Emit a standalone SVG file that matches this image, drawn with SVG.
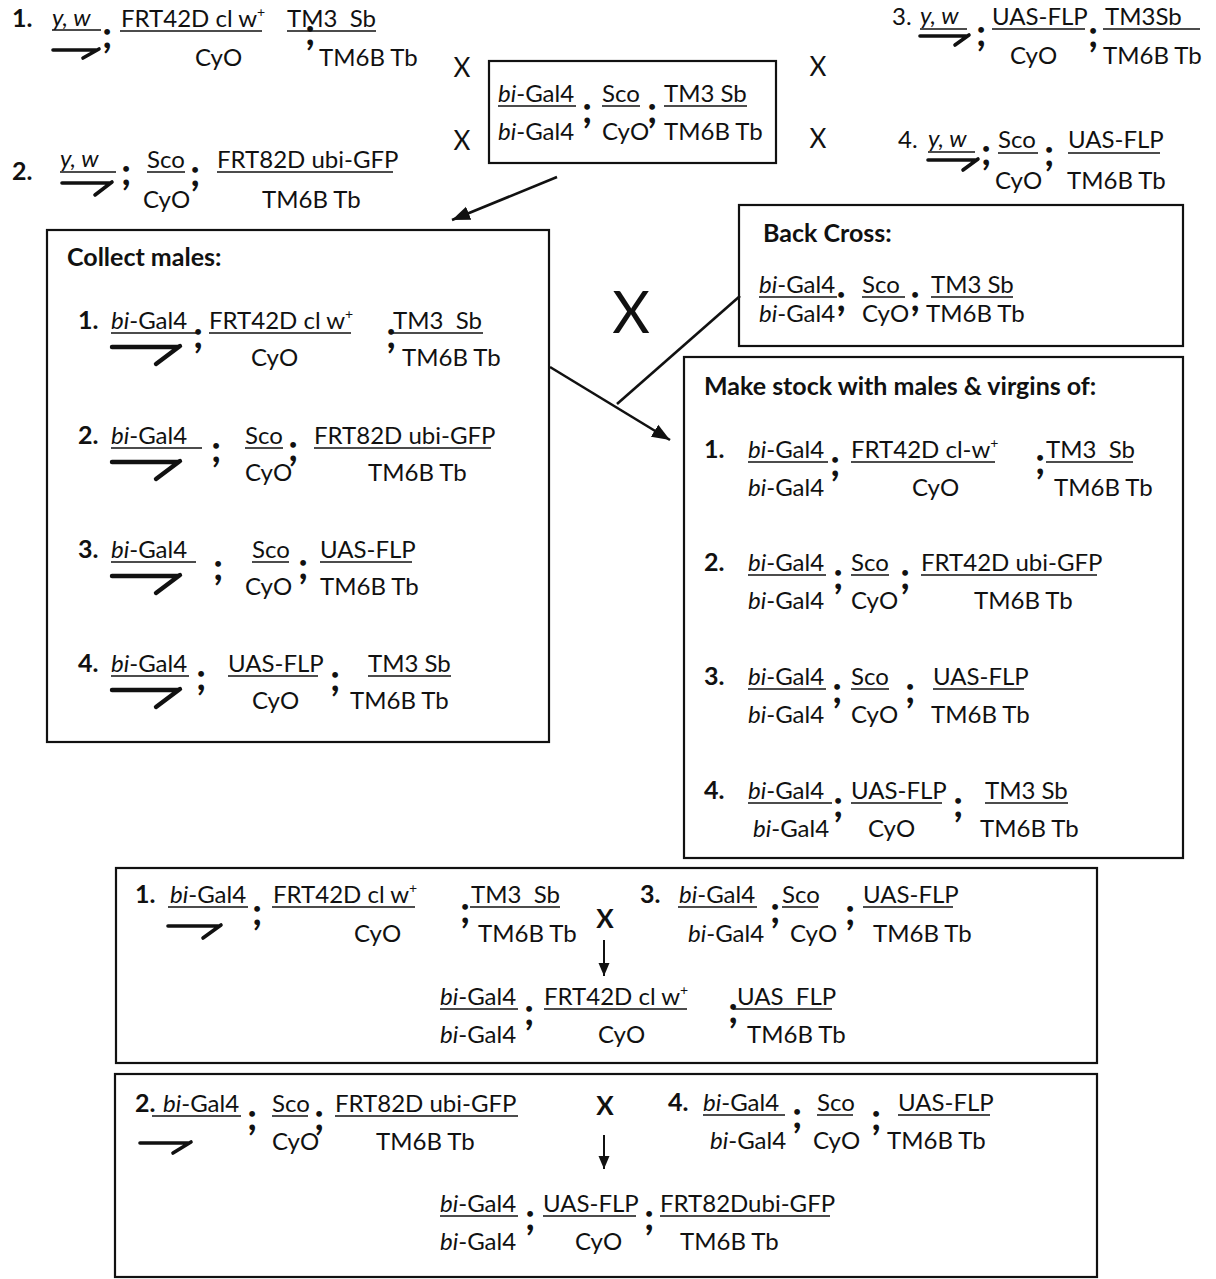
<svg xmlns="http://www.w3.org/2000/svg" width="1216" height="1279" viewBox="0 0 1216 1279">
<defs>
<style>
text{font-family:Lato,Carlito,"Liberation Sans",sans-serif;font-size:24px;fill:#111}
.b{font-weight:700;font-size:25px}
.i{font-style:italic}
.sc{font-weight:700;font-size:38px}
.sup{font-size:14px}
.x{font-size:26px}
.bx{font-weight:700;font-size:26px}
.big{font-size:58px}
.u{stroke:#111;stroke-width:1.7}
.box{fill:none;stroke:#111;stroke-width:2.2}
.m{fill:none;stroke:#111;stroke-width:3.6;stroke-linecap:round;stroke-linejoin:round}
.mb{fill:none;stroke:#111;stroke-width:4.4;stroke-linecap:round;stroke-linejoin:round}
.c{fill:none;stroke:#111;stroke-width:2.6}
.ca{fill:none;stroke:#111;stroke-width:2}
</style>
<marker id="ah" markerUnits="userSpaceOnUse" markerWidth="20" markerHeight="16" refX="18" refY="8" orient="auto"><path d="M0,1 L18,8 L0,15 Z" fill="#111"/></marker>
<marker id="ahs" markerUnits="userSpaceOnUse" markerWidth="14" markerHeight="12" refX="13" refY="6" orient="auto"><path d="M0,0.5 L13,6 L0,11.5 Z" fill="#111"/></marker>
</defs>
<rect width="1216" height="1279" fill="#fff"/>

<g id="connectors">
<line class="c" x1="557" y1="177" x2="452" y2="220" marker-end="url(#ah)"/>
<line class="c" x1="550" y1="367" x2="670" y2="440" marker-end="url(#ah)"/>
<line class="c" x1="617" y1="404" x2="740" y2="296"/>
<line class="ca" x1="604" y1="940" x2="604" y2="976" marker-end="url(#ahs)"/>
<line class="ca" x1="604" y1="1135" x2="604" y2="1169" marker-end="url(#ahs)"/>
</g>

<g id="cross-marks">
<text class="x" x="462" y="77" text-anchor="middle">X</text>
<text class="x" x="462" y="150" text-anchor="middle">X</text>
<text class="x" x="818" y="76" text-anchor="middle">X</text>
<text class="x" x="818" y="148" text-anchor="middle">X</text>
<text class="big" x="631" y="333" text-anchor="middle">X</text>
<text class="bx" x="605" y="928" text-anchor="middle">X</text>
<text class="bx" x="605" y="1115" text-anchor="middle">X</text>
</g>

<g id="parent1">
<text class="b" x="12" y="27">1.</text>
<text class="i" x="52" y="26">y, w</text>
<line class="u" x1="52" y1="30" x2="101" y2="30"/>
<path class="m" d="M53,50 H97 M99,49 L83,58"/>
<text class="sc" x="102" y="48">;</text>
<text x="121" y="27">FRT42D cl w<tspan class="sup" dy="-10">+</tspan></text>
<line class="u" x1="120" y1="31" x2="262" y2="31"/>
<text x="195" y="66">CyO</text>
<text class="sc" x="305" y="45">;</text>
<text x="287" y="27">TM3&#160; Sb</text>
<line class="u" x1="287" y1="31" x2="376" y2="31"/>
<text x="319" y="66">TM6B Tb</text>
</g>

<g id="parent2">
<text class="b" x="12" y="180">2.</text>
<text class="i" x="60" y="167">y, w</text>
<line class="u" x1="60" y1="172" x2="116" y2="172"/>
<path class="m" d="M62,183 H110 M112,182 L95,195"/>
<text class="sc" x="121" y="185">;</text>
<text x="147" y="168">Sco</text>
<line class="u" x1="147" y1="172" x2="185" y2="172"/>
<text x="143" y="208">CyO</text>
<text class="sc" x="190" y="186">;</text>
<text x="217" y="168">FRT82D ubi-GFP</text>
<line class="u" x1="217" y1="172" x2="393" y2="172"/>
<text x="262" y="208">TM6B Tb</text>
</g>

<g id="parent3">
<text x="892" y="25">3.</text>
<text class="i" x="920" y="24">y, w</text>
<line class="u" x1="920" y1="29" x2="967" y2="29"/>
<path class="m" d="M920,36 H967 M969,35 L955,45"/>
<text class="sc" x="976" y="46">;</text>
<text x="992" y="25">UAS-FLP</text>
<line class="u" x1="992" y1="29" x2="1085" y2="29"/>
<text x="1010" y="64">CyO</text>
<text class="sc" x="1088" y="47">;</text>
<text x="1105" y="25">TM3Sb</text>
<line class="u" x1="1103" y1="29" x2="1200" y2="29"/>
<text x="1103" y="64">TM6B Tb</text>
</g>

<g id="parent4">
<text x="898" y="148">4.</text>
<text class="i" x="928" y="147">y, w</text>
<line class="u" x1="928" y1="152" x2="975" y2="152"/>
<path class="m" d="M928,160 H976 M978,159 L963,170"/>
<text class="sc" x="981" y="165">;</text>
<text x="998" y="148">Sco</text>
<line class="u" x1="998" y1="153" x2="1038" y2="153"/>
<text x="995" y="189">CyO</text>
<text class="sc" x="1044" y="166">;</text>
<text x="1068" y="148">UAS-FLP</text>
<line class="u" x1="1068" y1="153" x2="1160" y2="153"/>
<text x="1067" y="189">TM6B Tb</text>
</g>

<g id="center-stock">
<rect class="box" x="489" y="61" width="287" height="102"/>
<text x="498" y="102"><tspan class="i">bi</tspan>-Gal4</text>
<line class="u" x1="498" y1="106" x2="576" y2="106"/>
<text class="sc" x="582" y="123">;</text>
<text x="602" y="102">Sco</text>
<line class="u" x1="602" y1="106" x2="640" y2="106"/>
<text class="sc" x="647" y="123">;</text>
<text x="664" y="102">TM3 Sb</text>
<line class="u" x1="664" y1="106" x2="747" y2="106"/>
<text x="498" y="140"><tspan class="i">bi</tspan>-Gal4</text>
<text x="602" y="140">CyO</text>
<text x="664" y="140">TM6B Tb</text>
</g>

<g id="collect-males">
<rect class="box" x="47" y="230" width="502" height="512"/>
<text class="b" x="67" y="266">Collect males:</text>
<text class="b" x="78" y="329">1.</text>
<text x="111" y="329"><tspan class="i">bi</tspan>-Gal4</text>
<line class="u" x1="111" y1="333" x2="197" y2="333"/>
<path class="mb" d="M112,347 H178 M180,346 L156,364"/>
<text class="sc" x="193" y="348">;</text>
<text x="209" y="329">FRT42D cl w<tspan class="sup" dy="-10">+</tspan></text>
<line class="u" x1="209" y1="333" x2="351" y2="333"/>
<text x="251" y="366">CyO</text>
<text class="sc" x="386" y="348">;</text>
<text x="393" y="329">TM3&#160; Sb</text>
<line class="u" x1="393" y1="333" x2="483" y2="333"/>
<text x="402" y="366">TM6B Tb</text>

<text class="b" x="78" y="444">2.</text>
<text x="111" y="444"><tspan class="i">bi</tspan>-Gal4</text>
<line class="u" x1="111" y1="448" x2="202" y2="448"/>
<path class="mb" d="M112,462 H178 M180,461 L156,479"/>
<text class="sc" x="211" y="462">;</text>
<text x="245" y="444">Sco</text>
<line class="u" x1="245" y1="448" x2="283" y2="448"/>
<text x="245" y="481">CyO</text>
<text class="sc" x="288" y="461">;</text>
<text x="314" y="444">FRT82D ubi-GFP</text>
<line class="u" x1="314" y1="448" x2="491" y2="448"/>
<text x="368" y="481">TM6B Tb</text>

<text class="b" x="78" y="558">3.</text>
<text x="111" y="558"><tspan class="i">bi</tspan>-Gal4</text>
<line class="u" x1="111" y1="562" x2="196" y2="562"/>
<path class="mb" d="M112,576 H178 M180,575 L156,593"/>
<text class="sc" x="213" y="580">;</text>
<text x="252" y="558">Sco</text>
<line class="u" x1="252" y1="562" x2="289" y2="562"/>
<text x="245" y="595">CyO</text>
<text class="sc" x="298" y="579">;</text>
<text x="320" y="558">UAS-FLP</text>
<line class="u" x1="320" y1="562" x2="412" y2="562"/>
<text x="320" y="595">TM6B Tb</text>

<text class="b" x="78" y="672">4.</text>
<text x="111" y="672"><tspan class="i">bi</tspan>-Gal4</text>
<line class="u" x1="111" y1="676" x2="189" y2="676"/>
<path class="mb" d="M112,690 H178 M180,689 L156,707"/>
<text class="sc" x="196" y="690">;</text>
<text x="228" y="672">UAS-FLP</text>
<line class="u" x1="228" y1="676" x2="318" y2="676"/>
<text x="252" y="709">CyO</text>
<text class="sc" x="330" y="691">;</text>
<text x="368" y="672">TM3 Sb</text>
<line class="u" x1="368" y1="676" x2="451" y2="676"/>
<text x="350" y="709">TM6B Tb</text>
</g>

<g id="back-cross">
<rect class="box" x="739" y="205" width="444" height="141"/>
<text class="b" x="763" y="242">Back Cross:</text>
<text x="759" y="293"><tspan class="i">bi</tspan>-Gal4</text>
<line class="u" x1="759" y1="297" x2="837" y2="297"/>
<text class="sc" x="836" y="311">;</text>
<text x="862" y="293">Sco</text>
<line class="u" x1="862" y1="297" x2="905" y2="297"/>
<text class="sc" x="910" y="311">;</text>
<text x="931" y="293">TM3 Sb</text>
<line class="u" x1="931" y1="297" x2="1013" y2="297"/>
<text x="759" y="322"><tspan class="i">bi</tspan>-Gal4</text>
<text x="862" y="322">CyO</text>
<text x="926" y="322">TM6B Tb</text>
</g>

<g id="make-stock">
<rect class="box" x="684" y="357" width="499" height="501"/>
<text class="b" x="704" y="395">Make stock with males &amp; virgins of:</text>

<text class="b" x="704" y="458">1.</text>
<text x="748" y="458"><tspan class="i">bi</tspan>-Gal4</text>
<line class="u" x1="748" y1="462" x2="828" y2="462"/>
<text class="sc" x="830" y="476">;</text>
<text x="851" y="458">FRT42D cl-w<tspan class="sup" dy="-10">+</tspan></text>
<line class="u" x1="851" y1="462" x2="995" y2="462"/>
<text class="sc" x="1035" y="474">;</text>
<text x="1046" y="458">TM3&#160; Sb</text>
<line class="u" x1="1046" y1="462" x2="1133" y2="462"/>
<text x="748" y="496"><tspan class="i">bi</tspan>-Gal4</text>
<text x="912" y="496">CyO</text>
<text x="1054" y="496">TM6B Tb</text>

<text class="b" x="704" y="571">2.</text>
<text x="748" y="571"><tspan class="i">bi</tspan>-Gal4</text>
<line class="u" x1="748" y1="575" x2="826" y2="575"/>
<text class="sc" x="833" y="589">;</text>
<text x="851" y="571">Sco</text>
<line class="u" x1="851" y1="575" x2="889" y2="575"/>
<text class="sc" x="900" y="589">;</text>
<text x="921" y="571">FRT42D ubi-GFP</text>
<line class="u" x1="921" y1="575" x2="1097" y2="575"/>
<text x="748" y="609"><tspan class="i">bi</tspan>-Gal4</text>
<text x="851" y="609">CyO</text>
<text x="974" y="609">TM6B Tb</text>

<text class="b" x="704" y="685">3.</text>
<text x="748" y="685"><tspan class="i">bi</tspan>-Gal4</text>
<line class="u" x1="748" y1="689" x2="826" y2="689"/>
<text class="sc" x="832" y="703">;</text>
<text x="851" y="685">Sco</text>
<line class="u" x1="851" y1="689" x2="889" y2="689"/>
<text class="sc" x="905" y="703">;</text>
<text x="933" y="685">UAS-FLP</text>
<line class="u" x1="933" y1="689" x2="1024" y2="689"/>
<text x="748" y="723"><tspan class="i">bi</tspan>-Gal4</text>
<text x="851" y="723">CyO</text>
<text x="931" y="723">TM6B Tb</text>

<text class="b" x="704" y="799">4.</text>
<text x="748" y="799"><tspan class="i">bi</tspan>-Gal4</text>
<line class="u" x1="748" y1="803" x2="832" y2="803"/>
<text class="sc" x="833" y="817">;</text>
<text x="851" y="799">UAS-FLP</text>
<line class="u" x1="851" y1="803" x2="942" y2="803"/>
<text class="sc" x="953" y="817">;</text>
<text x="985" y="799">TM3 Sb</text>
<line class="u" x1="985" y1="803" x2="1068" y2="803"/>
<text x="753" y="837"><tspan class="i">bi</tspan>-Gal4</text>
<text x="868" y="837">CyO</text>
<text x="980" y="837">TM6B Tb</text>
</g>

<g id="cross-1x3">
<rect class="box" x="116" y="868" width="981" height="195"/>
<text class="b" x="135" y="903">1.</text>
<text x="170" y="903"><tspan class="i">bi</tspan>-Gal4</text>
<line class="u" x1="168" y1="907" x2="248" y2="907"/>
<path class="m" d="M168,926 H219 M221,925 L203,938"/>
<text class="sc" x="252" y="925">;</text>
<text x="273" y="903">FRT42D cl w<tspan class="sup" dy="-10">+</tspan></text>
<line class="u" x1="272" y1="907" x2="415" y2="907"/>
<text x="354" y="942">CyO</text>
<text class="sc" x="460" y="923">;</text>
<text x="471" y="903">TM3&#160; Sb</text>
<line class="u" x1="470" y1="907" x2="560" y2="907"/>
<text x="478" y="942">TM6B Tb</text>

<text class="b" x="640" y="903">3.</text>
<text x="679" y="903"><tspan class="i">bi</tspan>-Gal4</text>
<line class="u" x1="678" y1="907" x2="757" y2="907"/>
<text class="sc" x="770" y="923">;</text>
<text x="782" y="903">Sco</text>
<line class="u" x1="782" y1="907" x2="818" y2="907"/>
<text class="sc" x="845" y="925">;</text>
<text x="863" y="903">UAS-FLP</text>
<line class="u" x1="863" y1="907" x2="953" y2="907"/>
<text x="688" y="942"><tspan class="i">bi</tspan>-Gal4</text>
<text x="790" y="942">CyO</text>
<text x="873" y="942">TM6B Tb</text>

<text x="440" y="1005"><tspan class="i">bi</tspan>-Gal4</text>
<line class="u" x1="440" y1="1009" x2="518" y2="1009"/>
<text class="sc" x="524" y="1025">;</text>
<text x="544" y="1005">FRT42D cl w<tspan class="sup" dy="-10">+</tspan></text>
<line class="u" x1="544" y1="1009" x2="687" y2="1009"/>
<text class="sc" x="728" y="1023">;</text>
<text x="737" y="1005">UAS&#160; FLP</text>
<line class="u" x1="733" y1="1009" x2="832" y2="1009"/>
<text x="440" y="1043"><tspan class="i">bi</tspan>-Gal4</text>
<text x="598" y="1043">CyO</text>
<text x="747" y="1043">TM6B Tb</text>
</g>

<g id="cross-2x4">
<rect class="box" x="115" y="1074" width="982" height="203"/>
<text class="b" x="135" y="1112">2.</text>
<text x="163" y="1112"><tspan class="i">bi</tspan>-Gal4</text>
<line class="u" x1="152" y1="1116" x2="241" y2="1116"/>
<path class="m" d="M140,1143 H189 M191,1142 L173,1153"/>
<text class="sc" x="247" y="1130">;</text>
<text x="272" y="1112">Sco</text>
<line class="u" x1="272" y1="1116" x2="308" y2="1116"/>
<text class="sc" x="314" y="1130">;</text>
<text x="335" y="1112">FRT82D ubi-GFP</text>
<line class="u" x1="335" y1="1116" x2="518" y2="1116"/>
<text x="272" y="1150">CyO</text>
<text x="376" y="1150">TM6B Tb</text>

<text class="b" x="668" y="1111">4.</text>
<text x="703" y="1111"><tspan class="i">bi</tspan>-Gal4</text>
<line class="u" x1="703" y1="1115" x2="785" y2="1115"/>
<text class="sc" x="792" y="1128">;</text>
<text x="817" y="1111">Sco</text>
<line class="u" x1="817" y1="1115" x2="853" y2="1115"/>
<text class="sc" x="871" y="1130">;</text>
<text x="898" y="1111">UAS-FLP</text>
<line class="u" x1="898" y1="1115" x2="990" y2="1115"/>
<text x="710" y="1149"><tspan class="i">bi</tspan>-Gal4</text>
<text x="813" y="1149">CyO</text>
<text x="887" y="1149">TM6B Tb</text>

<text x="440" y="1212"><tspan class="i">bi</tspan>-Gal4</text>
<line class="u" x1="440" y1="1216" x2="518" y2="1216"/>
<text class="sc" x="525" y="1230">;</text>
<text x="543" y="1212">UAS-FLP</text>
<line class="u" x1="543" y1="1216" x2="636" y2="1216"/>
<text class="sc" x="644" y="1230">;</text>
<text x="660" y="1212">FRT82Dubi-GFP</text>
<line class="u" x1="660" y1="1216" x2="830" y2="1216"/>
<text x="440" y="1250"><tspan class="i">bi</tspan>-Gal4</text>
<text x="575" y="1250">CyO</text>
<text x="680" y="1250">TM6B Tb</text>
</g>
</svg>
